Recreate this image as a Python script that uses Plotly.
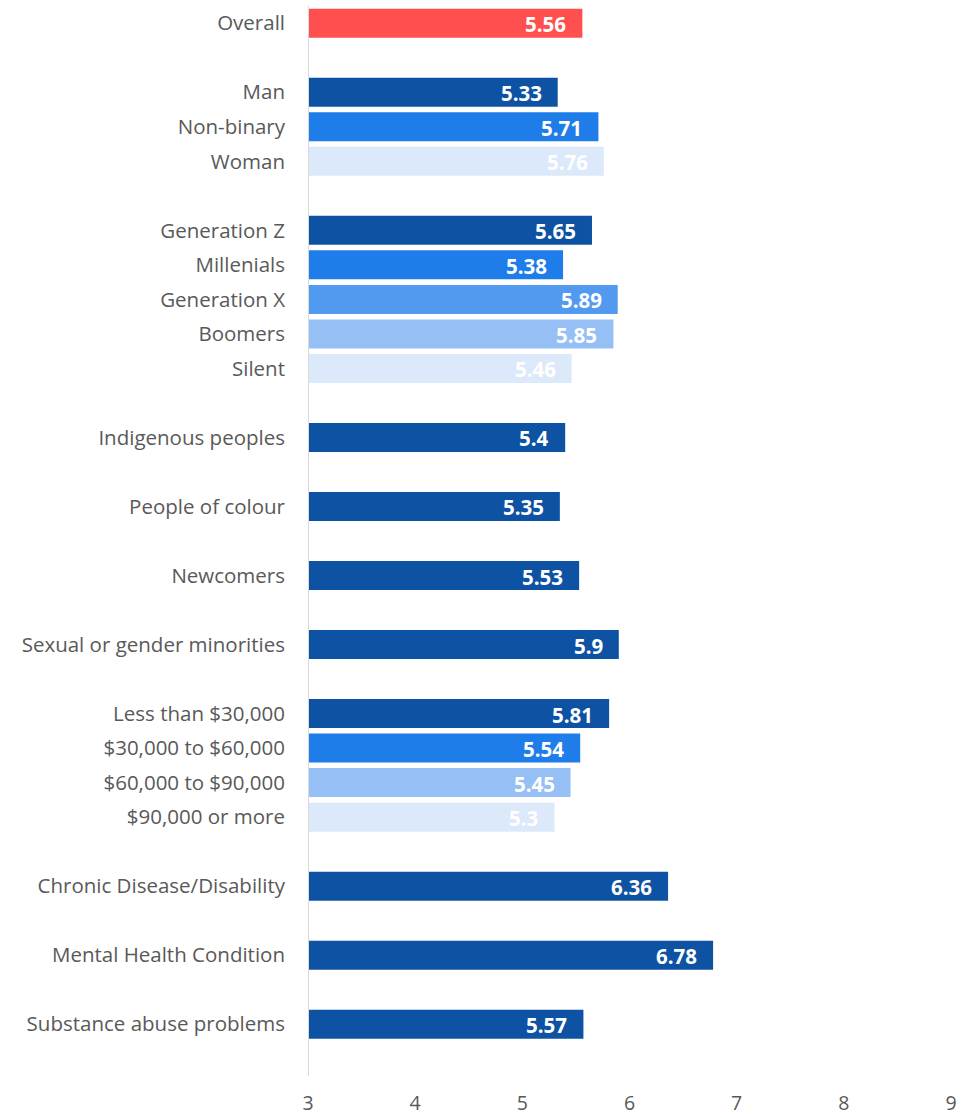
import plotly.graph_objects as go

categories = ["Overall", "", "Man", "Non-binary", "Woman", "",
              "Generation Z", "Millenials", "Generation X", "Boomers", "Silent", "",
              "Indigenous peoples", "", "People of colour", "", "Newcomers", "",
              "Sexual or gender minorities", "",
              "Less than $30,000", "$30,000 to $60,000", "$60,000 to $90,000", "$90,000 or more", "",
              "Chronic Disease/Disability", "", "Mental Health Condition", "",
              "Substance abuse problems", ""]
values = [5.56, None, 5.33, 5.71, 5.76, None,
          5.65, 5.38, 5.89, 5.85, 5.46, None,
          5.4, None, 5.35, None, 5.53, None,
          5.9, None,
          5.81, 5.54, 5.45, 5.3, None,
          6.36, None, 6.78, None,
          5.57, None]
labels = ["5.56", "", "5.33", "5.71", "5.76", "",
          "5.65", "5.38", "5.89", "5.85", "5.46", "",
          "5.4", "", "5.35", "", "5.53", "",
          "5.9", "",
          "5.81", "5.54", "5.45", "5.3", "",
          "6.36", "", "6.78", "",
          "5.57", ""]
colors = ["#FF4F4F", None, "#0E52A3", "#1F7DEA", "#DCE9FA", None,
          "#0E52A3", "#1F7DEA", "#5299F0", "#96C0F5", "#DCE9FA", None,
          "#0E52A3", None, "#0E52A3", None, "#0E52A3", None,
          "#0E52A3", None,
          "#0E52A3", "#1F7DEA", "#96C0F5", "#DCE9FA", None,
          "#0E52A3", None, "#0E52A3", None,
          "#0E52A3", None]
x_ticks = [3, 4, 5, 6, 7, 8, 9]
x_min, x_max = 3, 9

idx = [i for i, v in enumerate(values) if v is not None]
ys = list(range(len(categories)))

fig = go.Figure()
fig.add_trace(go.Bar(
    orientation="h",
    y=[ys[i] for i in idx],
    x=[values[i] - x_min for i in idx],
    base=x_min,
    marker=dict(color=[colors[i] for i in idx], line=dict(width=0)),
    width=0.84,
    hoverinfo="skip",
))

for i in idx:
    fig.add_annotation(x=values[i], y=ys[i], text="<b>" + labels[i] + "</b>",
                       showarrow=False, xanchor="right", xshift=-14, yshift=-1,
                       font=dict(family="Open Sans", size=20.5, color="white"))

fig.update_layout(
    width=963, height=1118,
    margin=dict(l=308, r=12, t=6, b=42, autoexpand=False),
    paper_bgcolor="white", plot_bgcolor="white",
    showlegend=False,
    font=dict(family="Open Sans", color="#595959"),
    xaxis=dict(range=[x_min, x_max], tickvals=x_ticks, showgrid=False, zeroline=False,
               showline=False, ticks="", tickfont=dict(size=19.5, color="#595959"),
               ticklabelstandoff=13, automargin=False),
    yaxis=dict(range=[len(categories) - 0.5, -0.5], tickvals=ys, ticktext=categories,
               showgrid=False, zeroline=False, ticks="", automargin=False,
               tickfont=dict(size=20.5, color="#595959"), ticklabelstandoff=22),
)
fig.add_shape(type="line", xref="x", yref="paper", x0=x_min, x1=x_min, y0=0, y1=1,
              line=dict(color="#D9D9D9", width=2), layer="above")

fig.write_html("out.html")
